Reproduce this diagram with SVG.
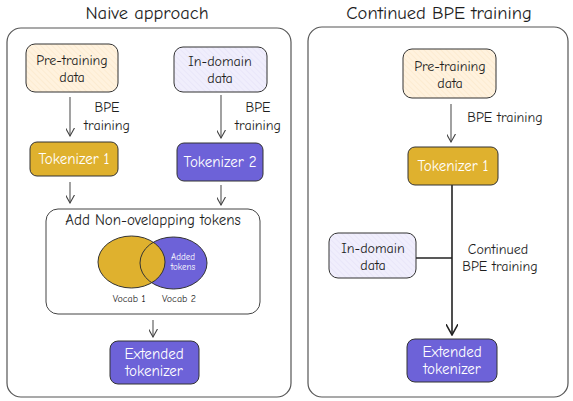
<svg xmlns="http://www.w3.org/2000/svg" width="573" height="401" viewBox="0 0 573 401">
<defs>
<marker id="ah" viewBox="0 0 10 10" refX="9" refY="5" markerWidth="9" markerHeight="9" orient="auto" markerUnits="userSpaceOnUse">
<path d="M0,0 L9,5 L0,10" fill="none" stroke="#444" stroke-width="1.2"/>
</marker>
<marker id="ah2" viewBox="0 0 10 10" refX="9" refY="5" markerWidth="12" markerHeight="12" orient="auto" markerUnits="userSpaceOnUse">
<path d="M0,0 L9,5 L0,10" fill="none" stroke="#222" stroke-width="1.3"/>
</marker>
<pattern id="hPeach" width="4" height="4" patternUnits="userSpaceOnUse" patternTransform="rotate(-45)">
<rect width="4" height="4" fill="#fff2de"/>
<line x1="0" y1="0" x2="0" y2="4" stroke="#f9e4c4" stroke-width="1"/>
</pattern>
<pattern id="hLav" width="4" height="4" patternUnits="userSpaceOnUse" patternTransform="rotate(-45)">
<rect width="4" height="4" fill="#f0eefc"/>
<line x1="0" y1="0" x2="0" y2="4" stroke="#e3dff7" stroke-width="1"/>
</pattern>
</defs>
<style>
text{font-family:"Comic Neue","Liberation Sans","DejaVu Sans",sans-serif;fill:#1e1e1e;text-anchor:middle}
.title{font-size:18.5px}
.lbl{font-size:14px}
.wt{fill:#ffffff;font-size:15px}
.panel{fill:#ffffff;stroke:#555;stroke-width:1.2}
.peach{fill:url(#hPeach);stroke:#333;stroke-width:1}
.lav{fill:url(#hLav);stroke:#333;stroke-width:1}
.gold{fill:#dfb12e;stroke:#333;stroke-width:1}
.purp{fill:#6d62d8;stroke:#333;stroke-width:1}
.conn{fill:none;stroke:#555;stroke-width:1.1}
.conn2{fill:none;stroke:#222;stroke-width:1.6}
.sm{font-size:10px}
</style>

<g id="left-panel">
<rect class="panel" x="7" y="28" width="284" height="369" rx="14"/>
<text class="title" x="147" y="19">Naive approach</text>
</g>
<g id="right-panel">
<rect class="panel" x="308" y="27" width="260" height="370" rx="14"/>
<text class="title" x="439" y="19">Continued BPE training</text>
</g>

<g id="connectors">
<line class="conn" x1="70" y1="97" x2="70" y2="136" marker-end="url(#ah)"/>
<line class="conn" x1="221" y1="95" x2="221" y2="138" marker-end="url(#ah)"/>
<line class="conn" x1="70" y1="182" x2="70" y2="203" marker-end="url(#ah)"/>
<line class="conn" x1="221" y1="185" x2="221" y2="205" marker-end="url(#ah)"/>
<line class="conn" x1="153" y1="320" x2="153" y2="337" marker-end="url(#ah)"/>
<line class="conn" x1="451" y1="104" x2="451" y2="142" marker-end="url(#ah)"/>
<line class="conn2" x1="452" y1="185" x2="452" y2="335" marker-end="url(#ah2)"/>
<line class="conn2" x1="416" y1="258" x2="452" y2="258"/>
<text class="lbl" x="107" y="112">BPE</text>
<text class="lbl" x="107" y="130">training</text>
<text class="lbl" x="258" y="112">BPE</text>
<text class="lbl" x="258" y="130">training</text>
<text class="lbl" x="505" y="122">BPE training</text>
<text class="lbl" x="498" y="254">Continued</text>
<text class="lbl" x="500" y="271">BPE training</text>
</g>

<g id="pretrain-left">
<rect class="peach" x="26" y="44" width="92" height="48" rx="9"/>
<text class="lbl" x="72" y="65">Pre-training</text>
<text class="lbl" x="72" y="82">data</text>
</g>
<g id="indomain-left">
<rect class="lav" x="174" y="47" width="93" height="45" rx="9"/>
<text class="lbl" x="220" y="66">In-domain</text>
<text class="lbl" x="220" y="83">data</text>
</g>
<g id="tokenizer1-left">
<rect class="gold" x="30" y="142" width="88" height="34" rx="7"/>
<text class="wt" x="74" y="164">Tokenizer 1</text>
</g>
<g id="tokenizer2-left">
<rect class="purp" x="177" y="143" width="86" height="38" rx="7"/>
<text class="wt" x="220" y="167">Tokenizer 2</text>
</g>
<g id="merge-group">
<rect fill="#ffffff" stroke="#444" stroke-width="1" x="46" y="209" width="214" height="105" rx="12"/>
<text class="lbl" x="153" y="225" style="font-size:15px">Add Non-ovelapping tokens</text>
<ellipse cx="173.5" cy="263" rx="33.5" ry="26" fill="#6d62d8" stroke="none"/>
<ellipse cx="131.5" cy="262" rx="33.5" ry="26" fill="#dfb12e" stroke="#333" stroke-width="1"/>
<ellipse cx="173.5" cy="263" rx="33.5" ry="26" fill="none" stroke="#333" stroke-width="1"/>
<text class="sm" x="183" y="260" style="fill:#ffffff;font-size:9px">Added</text>
<text class="sm" x="183" y="270" style="fill:#ffffff;font-size:9px">tokens</text>
<text class="sm" x="129" y="302">Vocab 1</text>
<text class="sm" x="179" y="302">Vocab 2</text>
</g>
<g id="extended-left">
<rect class="purp" x="110" y="341" width="89" height="43" rx="8"/>
<text class="wt" x="154" y="359">Extended</text>
<text class="wt" x="154" y="376">tokenizer</text>
</g>

<g id="pretrain-right">
<rect class="peach" x="403" y="49" width="93" height="49" rx="9"/>
<text class="lbl" x="450" y="71">Pre-training</text>
<text class="lbl" x="450" y="88">data</text>
</g>
<g id="tokenizer1-right">
<rect class="gold" x="408" y="147" width="90" height="38" rx="7"/>
<text class="wt" x="453" y="171">Tokenizer 1</text>
</g>
<g id="indomain-right">
<rect class="lav" x="329" y="233" width="87" height="45" rx="9"/>
<text class="lbl" x="373" y="253">In-domain</text>
<text class="lbl" x="373" y="270">data</text>
</g>
<g id="extended-right">
<rect class="purp" x="407" y="339" width="90" height="43" rx="8"/>
<text class="wt" x="452" y="357">Extended</text>
<text class="wt" x="452" y="374">tokenizer</text>
</g>
</svg>
